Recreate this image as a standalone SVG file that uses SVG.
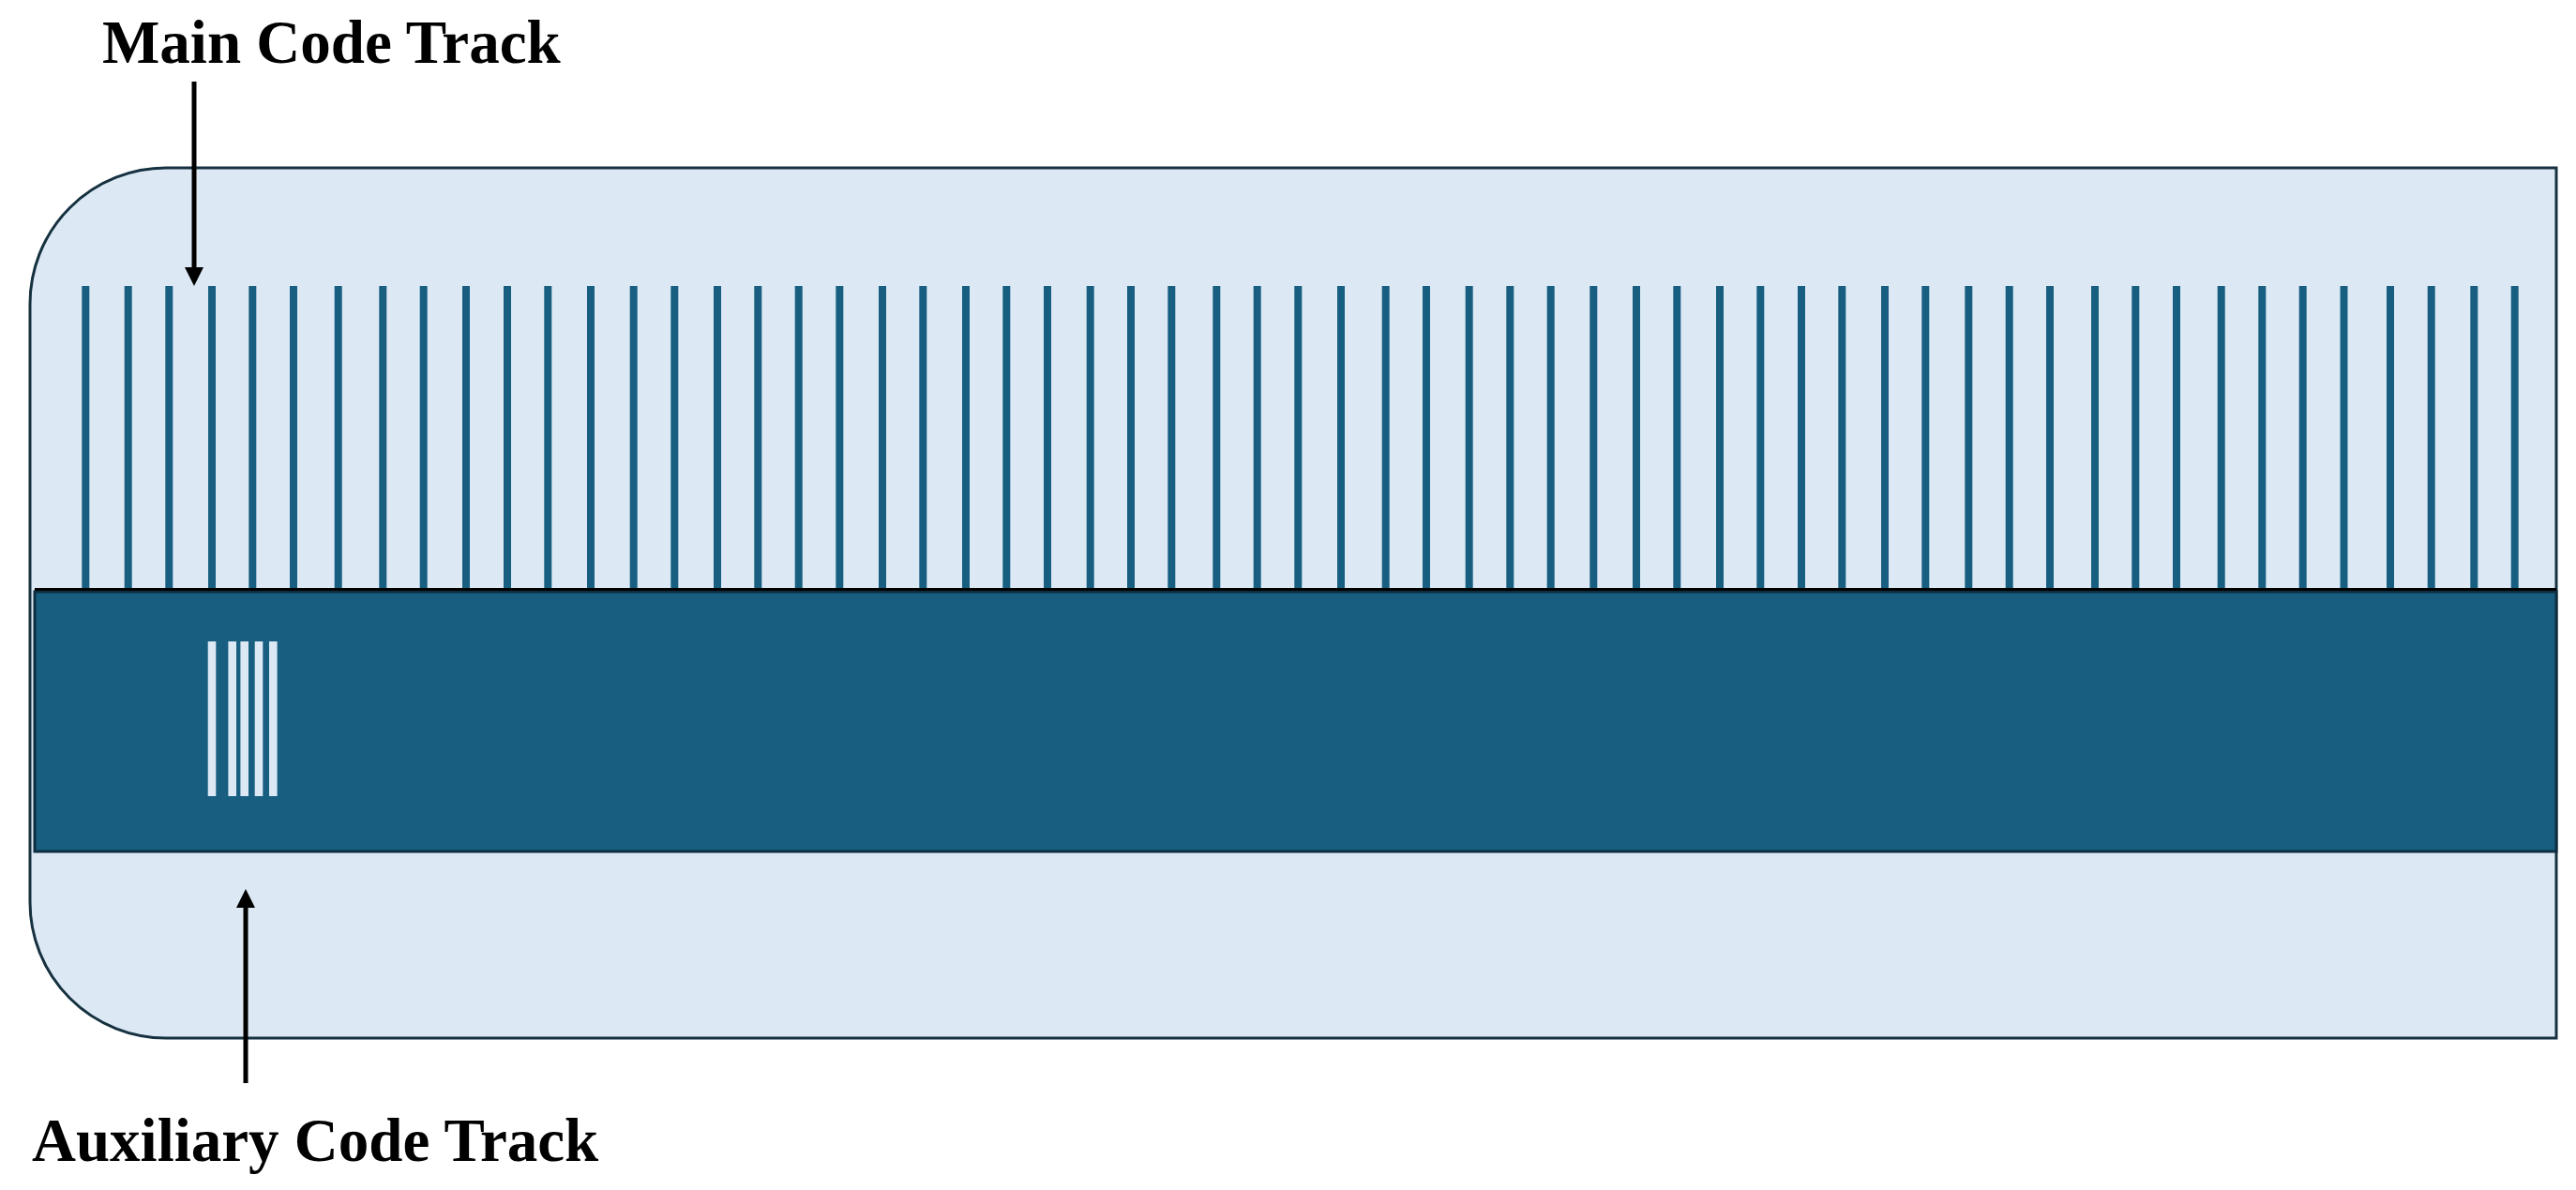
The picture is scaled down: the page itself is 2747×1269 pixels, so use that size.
<svg xmlns="http://www.w3.org/2000/svg" width="2747" height="1269" viewBox="0 0 2747 1269">
  <defs>
    <marker id="ah" markerUnits="userSpaceOnUse" markerWidth="20" markerHeight="20" viewBox="0 0 20 20" refX="0" refY="10" orient="auto">
      <path d="M0,0 L20,10 L0,20 Z" fill="#000"/>
    </marker>
    <style>
      .lbl { font-family: "Liberation Serif", "Times New Roman", serif; font-weight: bold; font-size: 65px; fill: #000; }
      .tick { fill: #175e80; }
      .aux { fill: #dce9f5; }
      .arrow { stroke: #000; stroke-width: 5; fill: none; marker-end: url(#ah); }
    </style>
  </defs>
  <rect width="2747" height="1269" fill="#ffffff"/>

  <g id="scale-body">
    <path d="M32,324 A145,145 0 0 1 177,179 L2726,179 L2726,1107 L177,1107 A145,145 0 0 1 32,962 Z" fill="#dce9f5" stroke="#16313f" stroke-width="3"/>
  </g>

  <g id="main-code-track">
    <rect class="tick" x="87.3" y="305" width="8" height="323"/>
    <rect class="tick" x="132.7" y="305" width="8" height="323"/>
    <rect class="tick" x="176.3" y="305" width="8" height="323"/>
    <rect class="tick" x="222" y="305" width="8" height="323"/>
    <rect class="tick" x="265.3" y="305" width="8" height="323"/>
    <rect class="tick" x="309" y="305" width="8" height="323"/>
    <rect class="tick" x="356.7" y="305" width="8" height="323"/>
    <rect class="tick" x="404.3" y="305" width="8" height="323"/>
    <rect class="tick" x="447.7" y="305" width="8" height="323"/>
    <rect class="tick" x="493" y="305" width="8" height="323"/>
    <rect class="tick" x="537" y="305" width="8" height="323"/>
    <rect class="tick" x="580.3" y="305" width="8" height="323"/>
    <rect class="tick" x="626" y="305" width="8" height="323"/>
    <rect class="tick" x="671.7" y="305" width="8" height="323"/>
    <rect class="tick" x="715.3" y="305" width="8" height="323"/>
    <rect class="tick" x="761" y="305" width="8" height="323"/>
    <rect class="tick" x="804.3" y="305" width="8" height="323"/>
    <rect class="tick" x="847.7" y="305" width="8" height="323"/>
    <rect class="tick" x="891.3" y="305" width="8" height="323"/>
    <rect class="tick" x="937" y="305" width="8" height="323"/>
    <rect class="tick" x="980.3" y="305" width="8" height="323"/>
    <rect class="tick" x="1026" y="305" width="8" height="323"/>
    <rect class="tick" x="1069.3" y="305" width="8" height="323"/>
    <rect class="tick" x="1113" y="305" width="8" height="323"/>
    <rect class="tick" x="1158.7" y="305" width="8" height="323"/>
    <rect class="tick" x="1202" y="305" width="8" height="323"/>
    <rect class="tick" x="1245.3" y="305" width="8" height="323"/>
    <rect class="tick" x="1293.3" y="305" width="8" height="323"/>
    <rect class="tick" x="1336.7" y="305" width="8" height="323"/>
    <rect class="tick" x="1380.3" y="305" width="8" height="323"/>
    <rect class="tick" x="1426" y="305" width="8" height="323"/>
    <rect class="tick" x="1473.7" y="305" width="8" height="323"/>
    <rect class="tick" x="1517" y="305" width="8" height="323"/>
    <rect class="tick" x="1562.7" y="305" width="8" height="323"/>
    <rect class="tick" x="1606.3" y="305" width="8" height="323"/>
    <rect class="tick" x="1649.7" y="305" width="8" height="323"/>
    <rect class="tick" x="1695.3" y="305" width="8" height="323"/>
    <rect class="tick" x="1741" y="305" width="8" height="323"/>
    <rect class="tick" x="1784.3" y="305" width="8" height="323"/>
    <rect class="tick" x="1830" y="305" width="8" height="323"/>
    <rect class="tick" x="1873.3" y="305" width="8" height="323"/>
    <rect class="tick" x="1917" y="305" width="8" height="323"/>
    <rect class="tick" x="1960.3" y="305" width="8" height="323"/>
    <rect class="tick" x="2006" y="305" width="8" height="323"/>
    <rect class="tick" x="2049.3" y="305" width="8" height="323"/>
    <rect class="tick" x="2095.3" y="305" width="8" height="323"/>
    <rect class="tick" x="2138.7" y="305" width="8" height="323"/>
    <rect class="tick" x="2182" y="305" width="8" height="323"/>
    <rect class="tick" x="2230" y="305" width="8" height="323"/>
    <rect class="tick" x="2273.3" y="305" width="8" height="323"/>
    <rect class="tick" x="2317" y="305" width="8" height="323"/>
    <rect class="tick" x="2364.7" y="305" width="8" height="323"/>
    <rect class="tick" x="2408.3" y="305" width="8" height="323"/>
    <rect class="tick" x="2451.7" y="305" width="8" height="323"/>
    <rect class="tick" x="2495.5" y="305" width="8" height="323"/>
    <rect class="tick" x="2545" y="305" width="8" height="323"/>
    <rect class="tick" x="2588.7" y="305" width="8" height="323"/>
    <rect class="tick" x="2634.3" y="305" width="8" height="323"/>
    <rect class="tick" x="2677.7" y="305" width="8" height="323"/>
  </g>

  <g id="band">
    <rect x="37" y="631" width="2689" height="277" fill="#175e80" stroke="#0e2f40" stroke-width="3"/>
    <line x1="37" y1="628.5" x2="2726" y2="628.5" stroke="#000" stroke-width="3"/>
  </g>

  <g id="auxiliary-code-track">
    <rect class="aux" x="221.7" y="684" width="8.6" height="165"/>
    <rect class="aux" x="243.4" y="684" width="8.6" height="165"/>
    <rect class="aux" x="256.4" y="684" width="8.6" height="165"/>
    <rect class="aux" x="271.7" y="684" width="8.6" height="165"/>
    <rect class="aux" x="287" y="684" width="8.6" height="165"/>
  </g>

  <g id="connectors">
    <line class="arrow" x1="207" y1="87" x2="207" y2="285"/>
    <line class="arrow" x1="262" y1="1155" x2="262" y2="968"/>
  </g>

  <g id="label-main">
    <text class="lbl" x="109" y="67">Main Code Track</text>
  </g>
  <g id="label-aux">
    <text class="lbl" x="34" y="1238">Auxiliary Code Track</text>
  </g>
</svg>
